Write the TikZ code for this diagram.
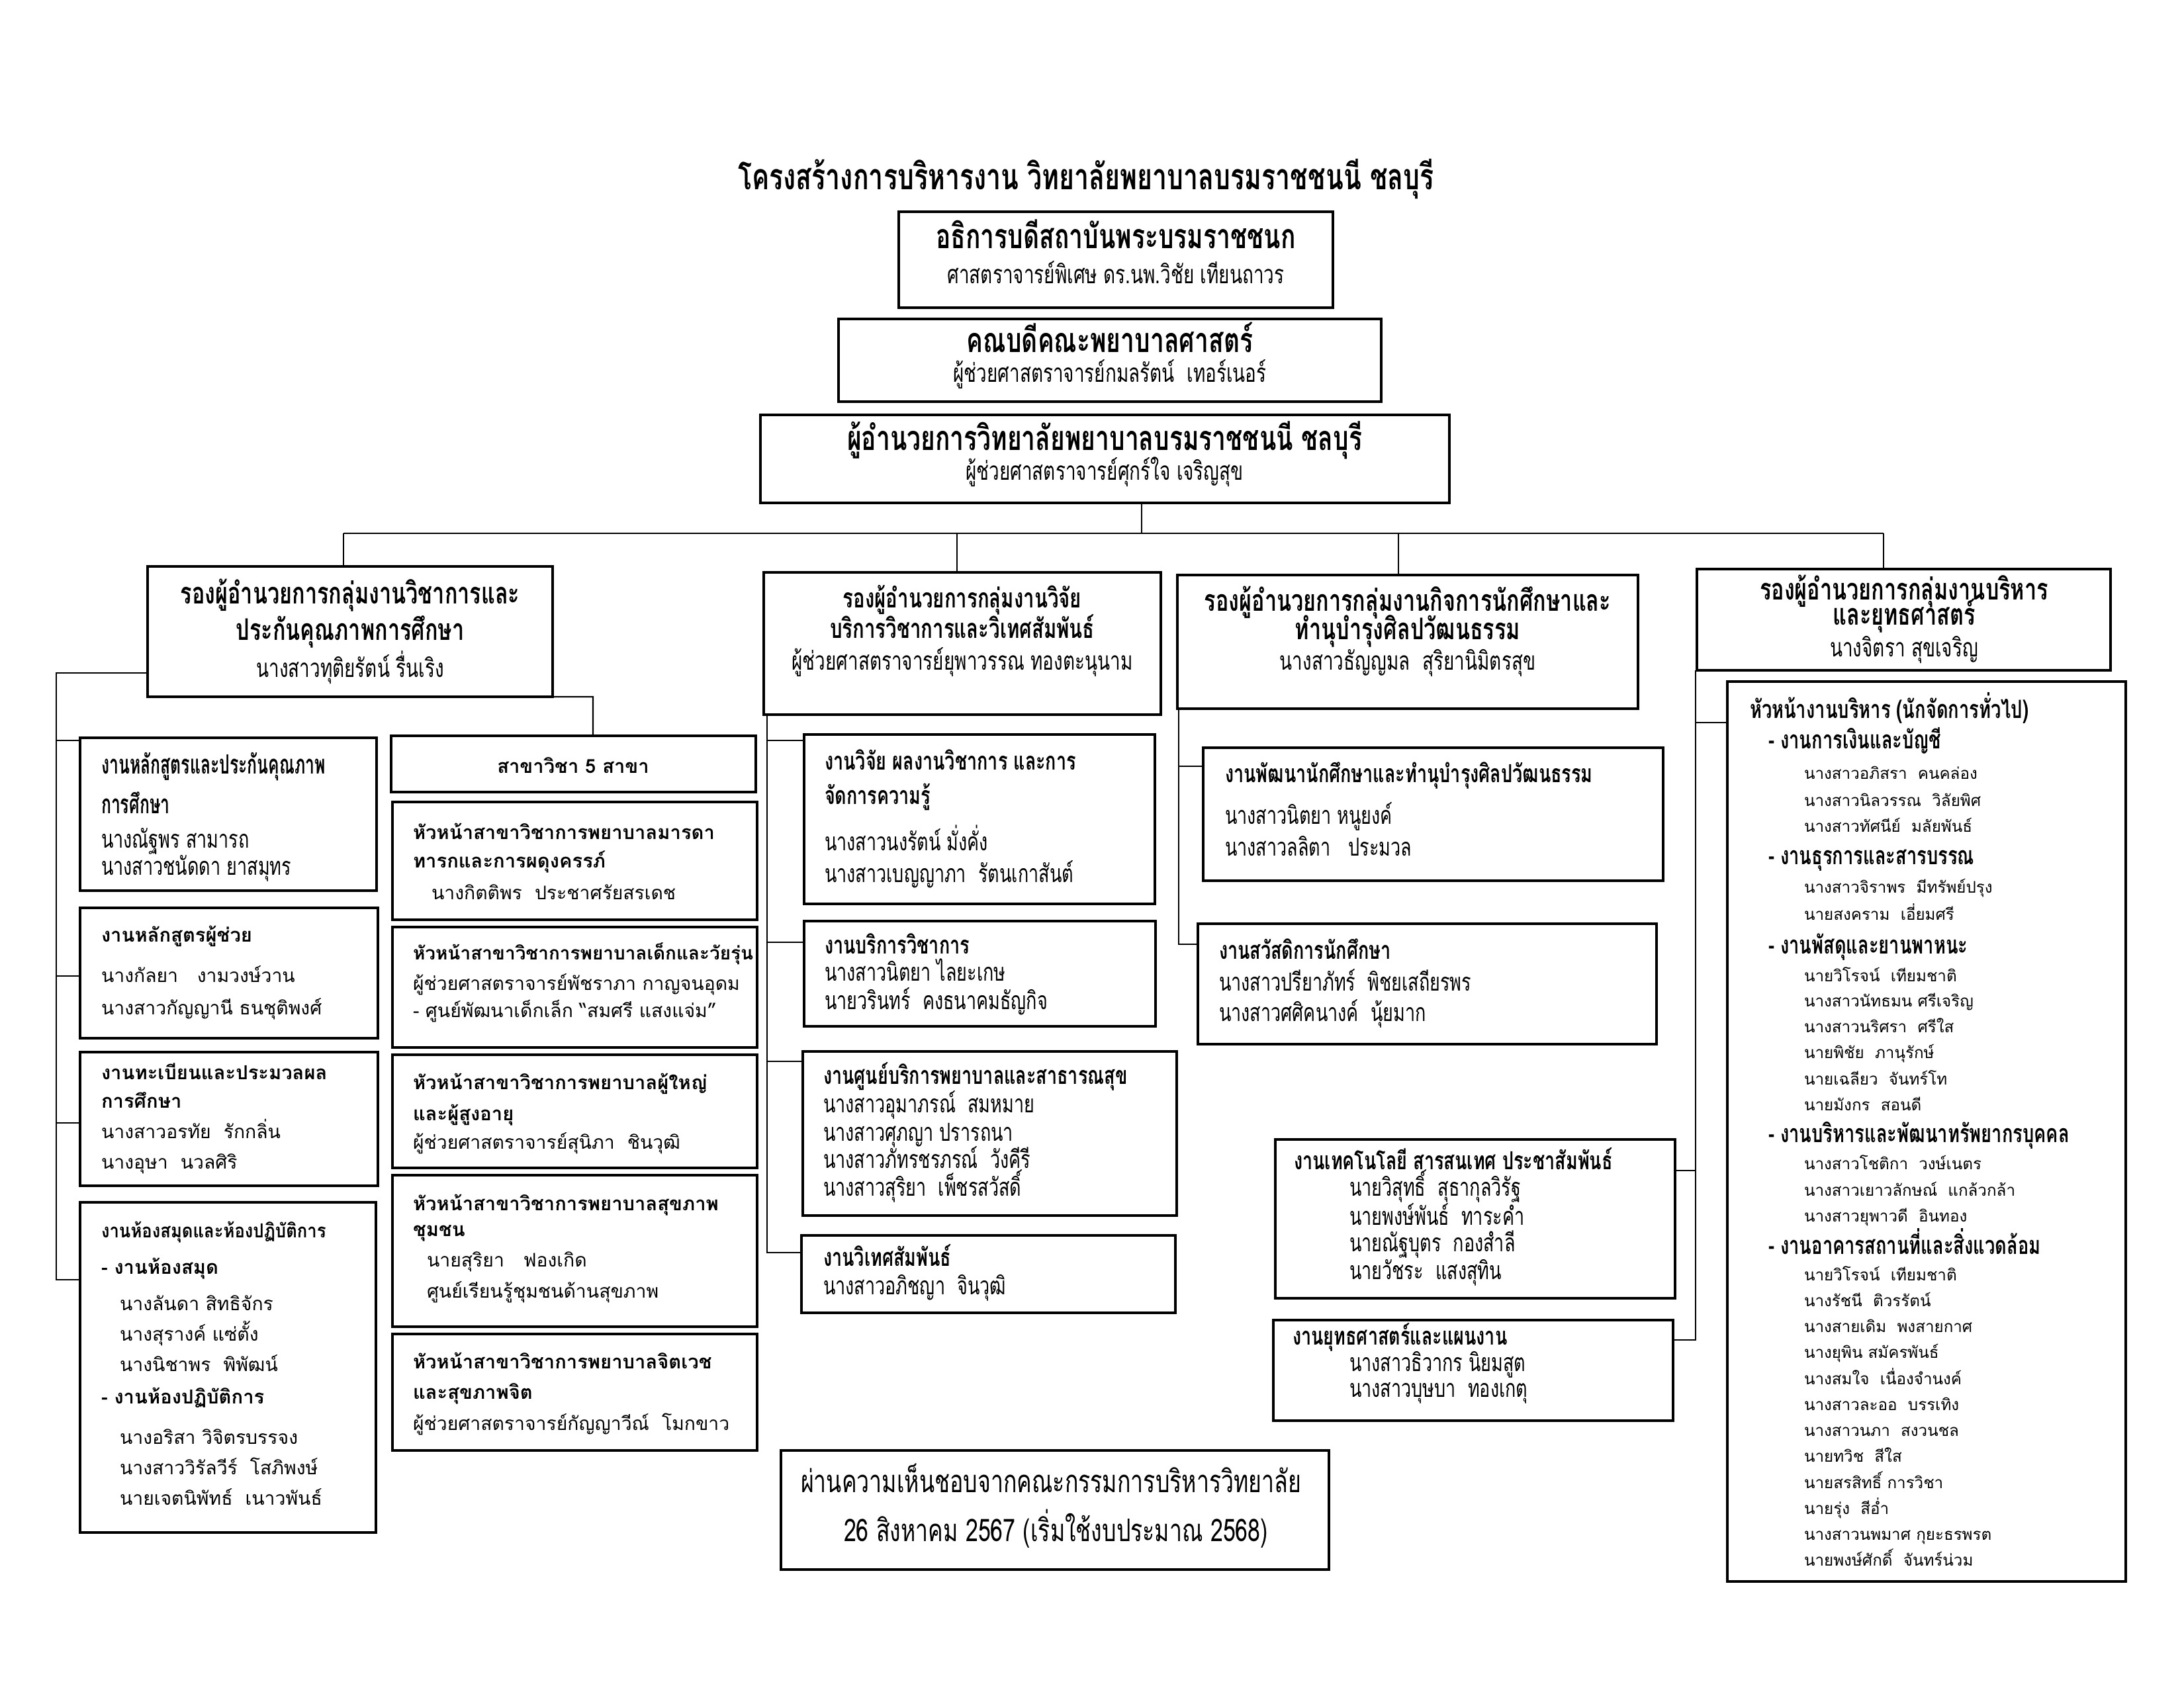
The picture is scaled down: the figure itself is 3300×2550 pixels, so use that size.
\documentclass[tikz,border=0pt]{standalone}
\usepackage{fontspec}
\newfontfamily\lp[Script=Thai]{Loma}
\newfontfamily\lpc[Script=Thai,FakeStretch=0.88]{Loma}
\newfontfamily\lc[Script=Thai,FakeStretch=0.72]{Loma}
\newfontfamily\lcc[Script=Thai,FakeStretch=0.62]{Loma}
\newcounter{tn}
\newcommand\tl[4]{\stepcounter{tn}\node[#1,anchor=base west] (t\arabic{tn}) at (#2,#3) {#4};}
\newcommand\tc[4]{\stepcounter{tn}\node[#1,anchor=base] (t\arabic{tn}) at (#2,#3) {#4};}
\newcommand\bx[5]{\node[bxs,anchor=north west,minimum width={(#4-#2)*0.24pt},minimum height={(#5-#3)*0.24pt}] (#1) at (#2,#3) {};}
\tikzset{
  bxs/.style={draw,line width=1.1pt,inner sep=0pt,outer sep=0pt},
  ln/.style={line width=0.5pt},
  tt/.style={inner sep=0pt,outer sep=0pt},
  ttl/.style={tt,font=\lc\bfseries\fontsize{13.1}{15}\selectfont},
  hA/.style={tt,font=\lc\bfseries\fontsize{12.4}{14}\selectfont},
  hAn/.style={tt,font=\lc\fontsize{9.3}{11}\selectfont},
  dep/.style={tt,font=\lc\bfseries\fontsize{10.8}{12}\selectfont},
  depb/.style={tt,font=\lc\bfseries\fontsize{9.8}{12}\selectfont},
  depn/.style={tt,font=\lc\fontsize{9.3}{11}\selectfont},
  sub/.style={tt,font=\lc\bfseries\fontsize{9}{11}\selectfont},
  subc/.style={tt,font=\lcc\bfseries\fontsize{9.6}{11}\selectfont},
  nm/.style={tt,font=\lc\fontsize{9}{11}\selectfont},
  lpb/.style={tt,font=\lp\bfseries\fontsize{7}{8}\selectfont},
  lpbs/.style={tt,font=\lp\bfseries\fontsize{6.7}{8}\selectfont},
  lpbc/.style={tt,font=\lpc\bfseries\fontsize{7}{8}\selectfont},
  lpn/.style={tt,font=\lp\fontsize{6.8}{8}\selectfont},
  hh/.style={tt,font=\lc\bfseries\fontsize{9.1}{10}\selectfont},
  hn/.style={tt,font=\lp\fontsize{5.8}{7}\selectfont},
  note/.style={tt,font=\lc\fontsize{11.3}{13}\selectfont}
}
\begin{document}
\begin{tikzpicture}[x=0.24pt,y=-0.24pt]
\useasboundingbox (0,0) rectangle (3300,2550);
% ---------- boxes ----------
\bx{A}{1358}{320}{2014}{465}
\bx{B}{1267}{482}{2087}{607}
\bx{C}{1149}{627}{2190}{760}
\bx{D1}{223}{856}{835}{1053}
\bx{D2}{1154}{865}{1754}{1080}
\bx{D3}{1779}{869}{2475}{1071}
\bx{D4}{2564}{860}{3189}{1013}
\bx{L1}{121}{1115}{569}{1346}
\bx{L2}{121}{1372}{571}{1569}
\bx{L3}{121}{1590}{571}{1792}
\bx{L4}{121}{1817}{568}{2316}
\bx{Sk}{591}{1112}{1142}{1197}
\bx{M1}{593}{1212}{1144}{1390}
\bx{M2}{593}{1401}{1144}{1583}
\bx{M3}{593}{1594}{1144}{1765}
\bx{M4}{593}{1776}{1144}{2005}
\bx{M5}{593}{2016}{1144}{2192}
\bx{R1}{1215}{1110}{1745}{1366}
\bx{R2}{1215}{1392}{1746}{1551}
\bx{R3}{1213}{1589}{1778}{1837}
\bx{R4}{1211}{1867}{1776}{1984}
\bx{S1}{1818}{1130}{2513}{1331}
\bx{S2}{1810}{1396}{2503}{1578}
\bx{T1}{1927}{1722}{2531}{1962}
\bx{T2}{1924}{1995}{2528}{2147}
\bx{H}{2610}{1030}{3212}{2390}
\bx{N}{1180}{2192}{2008}{2372}
% ---------- connectors ----------
\coordinate (j1) at (519,806);
\coordinate (j2) at (1446,806);
\coordinate (jc) at (1725,806);
\coordinate (j3) at (2113,806);
\coordinate (j4) at (2846,806);
\draw[ln] (j1) -- (j4);
\draw[ln] (jc |- C.south) -- (jc);
\draw[ln] (j1) -- (j1 |- D1.north);
\draw[ln] (j2) -- (j2 |- D2.north);
\draw[ln] (j3) -- (j3 |- D3.north);
\draw[ln] (j4) -- (j4 |- D4.north);
% left group
\coordinate (v1a) at (85,1017);
\coordinate (v1b) at (85,1934);
\draw[ln] (v1a -| D1.west) -- (v1a) -- (v1b) -- (v1b -| L4.west);
\coordinate (q1) at (85,1119);
\coordinate (q2) at (85,1475);
\coordinate (q3) at (85,1697);
\draw[ln] (q1) -- (q1 -| L1.west);
\draw[ln] (q2) -- (q2 -| L2.west);
\draw[ln] (q3) -- (q3 -| L3.west);
\coordinate (k1) at (896,1053);
\draw[ln] (D1.south east) -- (k1) -- (k1 |- Sk.north);
% research group
\coordinate (v2a) at (1159,1080);
\coordinate (v2b) at (1159,1893);
\draw[ln] (v2a) -- (v2b) -- (v2b -| R4.west);
\coordinate (r1) at (1159,1119);
\coordinate (r2) at (1159,1424);
\coordinate (r3) at (1159,1604);
\draw[ln] (r1) -- (r1 -| R1.west);
\draw[ln] (r2) -- (r2 -| R2.west);
\draw[ln] (r3) -- (r3 -| R3.west);
% student group
\coordinate (v3a) at (1781,1071);
\coordinate (v3b) at (1781,1427);
\draw[ln] (v3a) -- (v3b) -- (v3b -| S2.west);
\coordinate (s1) at (1781,1158);
\draw[ln] (s1) -- (s1 -| S1.west);
% admin group
\coordinate (v4a) at (2562,1013);
\coordinate (v4b) at (2562,2025);
\draw[ln] (v4a) -- (v4b) -- (v4b -| T2.east);
\coordinate (h1) at (2562,1092);
\coordinate (h2) at (2562,1769);
\draw[ln] (h1) -- (h1 -| H.west);
\draw[ln] (h2) -- (h2 -| T1.east);
% ---------- texts ----------
\tc{ttl}{1641}{286}{โครงสร้างการบริหารงาน วิทยาลัยพยาบาลบรมราชชนนี ชลบุรี}
\tc{hA}{1686}{375}{อธิการบดีสถาบันพระบรมราชชนก}
\tc{hAn}{1686}{428}{ศาสตราจารย์พิเศษ ดร.นพ.วิชัย เทียนถาวร}
\tc{hA}{1677}{532}{คณบดีคณะพยาบาลศาสตร์}
\tc{hAn}{1677}{577}{ผู้ช่วยศาสตราจารย์กมลรัตน์~ เทอร์เนอร์}
\tc{hA}{1669}{680}{ผู้อำนวยการวิทยาลัยพยาบาลบรมราชชนนี ชลบุรี}
\tc{hAn}{1669}{725}{ผู้ช่วยศาสตราจารย์ศุกร์ใจ เจริญสุข}
% deputies
\tc{dep}{529}{912}{รองผู้อำนวยการกลุ่มงานวิชาการและ}
\tc{dep}{529}{967}{ประกันคุณภาพการศึกษา}
\tc{depn}{529}{1023}{นางสาวทุติยรัตน์ รื่นเริง}
\tc{depb}{1454}{918}{รองผู้อำนวยการกลุ่มงานวิจัย}
\tc{depb}{1454}{964}{บริการวิชาการและวิเทศสัมพันธ์}
\tc{depn}{1454}{1012}{ผู้ช่วยศาสตราจารย์ยุพาวรรณ ทองตะนุนาม}
\tc{dep}{2127}{923}{รองผู้อำนวยการกลุ่มงานกิจการนักศึกษาและ}
\tc{dep}{2127}{966}{ทำนุบำรุงศิลปวัฒนธรรม}
\tc{depn}{2127}{1012}{นางสาวธัญญมล~ สุริยานิมิตรสุข}
\tc{dep}{2877}{906}{รองผู้อำนวยการกลุ่มงานบริหาร}
\tc{dep}{2877}{944}{และยุทธศาสตร์}
\tc{depn}{2877}{992}{นางจิตรา สุขเจริญ}
% left column
\tl{subc}{153}{1169}{งานหลักสูตรและประกันคุณภาพ}
\tl{subc}{153}{1229}{การศึกษา}
\tl{nm}{153}{1281}{นางณัฐพร สามารถ}
\tl{nm}{153}{1322}{นางสาวชนัดดา ยาสมุทร}
\tl{lpb}{153}{1423}{งานหลักสูตรผู้ช่วย}
\tl{lpn}{153}{1484}{นางกัลยา~~ งามวงษ์วาน}
\tl{lpn}{153}{1533}{นางสาวกัญญานี ธนชุติพงศ์}
\tl{lpb}{153}{1631}{งานทะเบียนและประมวลผล}
\tl{lpb}{153}{1674}{การศึกษา}
\tl{lpn}{153}{1720}{นางสาวอรทัย~ รักกลิ่น}
\tl{lpn}{153}{1766}{นางอุษา~ นวลศิริ}
\tl{lpbc}{153}{1870}{งานห้องสมุดและห้องปฏิบัติการ}
\tl{lpb}{153}{1925}{- งานห้องสมุด}
\tl{lpn}{181}{1980}{นางลันดา สิทธิจักร}
\tl{lpn}{181}{2026}{นางสุรางค์ แซ่ตั้ง}
\tl{lpn}{181}{2072}{นางนิชาพร~ พิพัฒน์}
\tl{lpb}{153}{2121}{- งานห้องปฏิบัติการ}
\tl{lpn}{181}{2182}{นางอริสา วิจิตรบรรจง}
\tl{lpn}{181}{2228}{นางสาววิรัลวีร์~ โสภิพงษ์}
\tl{lpn}{181}{2274}{นายเจตนิพัทธ์~ เนาวพันธ์}
% branches column
\tc{lpb}{866}{1168}{สาขาวิชา 5 สาขา}
\tl{lpb}{624}{1268}{หัวหน้าสาขาวิชาการพยาบาลมารดา}
\tl{lpb}{624}{1311}{ทารกและการผดุงครรภ์}
\tl{lpn}{652}{1359}{นางกิตติพร~ ประชาศรัยสรเดช}
\tl{lpbs}{624}{1450}{หัวหน้าสาขาวิชาการพยาบาลเด็กและวัยรุ่น}
\tl{lpn}{624}{1496}{ผู้ช่วยศาสตราจารย์พัชราภา กาญจนอุดม}
\tl{lpn}{624}{1537}{- ศูนย์พัฒนาเด็กเล็ก “สมศรี แสงแจ่ม”}
\tl{lpb}{624}{1646}{หัวหน้าสาขาวิชาการพยาบาลผู้ใหญ่}
\tl{lpb}{624}{1693}{และผู้สูงอายุ}
\tl{lpn}{624}{1736}{ผู้ช่วยศาสตราจารย์สุนิภา~ ชินวุฒิ}
\tl{lpb}{624}{1829}{หัวหน้าสาขาวิชาการพยาบาลสุขภาพ}
\tl{lpb}{624}{1868}{ชุมชน}
\tl{lpn}{645}{1914}{นายสุริยา~~ ฟองเกิด}
\tl{lpn}{645}{1961}{ศูนย์เรียนรู้ชุมชนด้านสุขภาพ}
\tl{lpb}{624}{2068}{หัวหน้าสาขาวิชาการพยาบาลจิตเวช}
\tl{lpb}{624}{2114}{และสุขภาพจิต}
\tl{lpn}{624}{2161}{ผู้ช่วยศาสตราจารย์กัญญาวีณ์~ โมกขาว}
% research column
\tl{sub}{1246}{1163}{งานวิจัย ผลงานวิชาการ และการ}
\tl{sub}{1246}{1215}{จัดการความรู้}
\tl{nm}{1246}{1285}{นางสาวนงรัตน์ มั่งคั่ง}
\tl{nm}{1246}{1333}{นางสาวเบญญาภา~ รัตนเกาสันต์}
\tl{sub}{1246}{1441}{งานบริการวิชาการ}
\tl{nm}{1246}{1482}{นางสาวนิตยา ไลยะเกษ}
\tl{nm}{1246}{1525}{นายวรินทร์~ คงธนาคมธัญกิจ}
\tl{sub}{1244}{1638}{งานศูนย์บริการพยาบาลและสาธารณสุข}
\tl{nm}{1244}{1681}{นางสาวอุมาภรณ์~ สมหมาย}
\tl{nm}{1244}{1724}{นางสาวศุภญา ปรารถนา}
\tl{nm}{1244}{1765}{นางสาวภัทรชรภรณ์~ วังคีรี}
\tl{nm}{1244}{1807}{นางสาวสุริยา~ เพ็ชรสวัสดิ์}
\tl{sub}{1244}{1913}{งานวิเทศสัมพันธ์}
\tl{nm}{1244}{1956}{นางสาวอภิชญา~ จินวุฒิ}
% student column
\tl{sub}{1851}{1182}{งานพัฒนานักศึกษาและทำนุบำรุงศิลปวัฒนธรรม}
\tl{nm}{1851}{1245}{นางสาวนิตยา หนูยงค์}
\tl{nm}{1851}{1293}{นางสาวลลิตา~~ ประมวล}
\tl{sub}{1842}{1449}{งานสวัสดิการนักศึกษา}
\tl{nm}{1842}{1497}{นางสาวปรียาภัทร์~ พิชยเสถียรพร}
\tl{nm}{1842}{1543}{นางสาวศศิคนางค์~ นุ้ยมาก}
\tl{sub}{1955}{1767}{งานเทคโนโลยี สารสนเทศ ประชาสัมพันธ์}
\tl{nm}{2039}{1807}{นายวิสุทธิ์~ สุธากุลวิรัฐ}
\tl{nm}{2039}{1851}{นายพงษ์พันธ์~ ทาระคำ}
\tl{nm}{2039}{1891}{นายณัฐบุตร~ กองสำลี}
\tl{nm}{2039}{1933}{นายวัชระ~ แสงสุทิน}
\tl{sub}{1953}{2032}{งานยุทธศาสตร์และแผนงาน}
\tl{nm}{2039}{2072}{นางสาวธิวากร นิยมสูต}
\tl{nm}{2039}{2111}{นางสาวบุษบา~ ทองเกตุ}
% admin head box
\tl{hh}{2644}{1085}{หัวหน้างานบริหาร (นักจัดการทั่วไป)}
\tl{hh}{2672}{1131}{- งานการเงินและบัญชี}
\tl{hn}{2726}{1177}{นางสาวอภิสรา~ คนคล่อง}
\tl{hn}{2726}{1218}{นางสาวนิลวรรณ~ วิลัยพิศ}
\tl{hn}{2726}{1257}{นางสาวทัศนีย์~ มลัยพันธ์}
\tl{hh}{2672}{1306}{- งานธุรการและสารบรรณ}
\tl{hn}{2726}{1349}{นางสาวจิราพร~ มีทรัพย์ปรุง}
\tl{hn}{2726}{1390}{นายสงคราม~ เอี่ยมศรี}
\tl{hh}{2672}{1441}{- งานพัสดุและยานพาหนะ}
\tl{hn}{2726}{1483}{นายวิโรจน์~ เทียมชาติ}
\tl{hn}{2726}{1521}{นางสาวนัทธมน ศรีเจริญ}
\tl{hn}{2726}{1560}{นางสาวนริศรา~ ศรีใส}
\tl{hn}{2726}{1599}{นายพิชัย~ ภานุรักษ์}
\tl{hn}{2726}{1639}{นายเฉลียว~ จันทร์โท}
\tl{hn}{2726}{1678}{นายมังกร~ สอนดี}
\tl{hh}{2672}{1726}{- งานบริหารและพัฒนาทรัพยากรบุคคล}
\tl{hn}{2726}{1767}{นางสาวโชติกา~ วงษ์เนตร}
\tl{hn}{2726}{1807}{นางสาวเยาวลักษณ์~ แกล้วกล้า}
\tl{hn}{2726}{1846}{นางสาวยุพาวดี~ อินทอง}
\tl{hh}{2672}{1895}{- งานอาคารสถานที่และสิ่งแวดล้อม}
\tl{hn}{2726}{1935}{นายวิโรจน์~ เทียมชาติ}
\tl{hn}{2726}{1974}{นางรัชนี~ ติวรรัตน์}
\tl{hn}{2726}{2013}{นางสายเดิม~ พงสายกาศ}
\tl{hn}{2726}{2052}{นางยุพิน สมัครพันธ์}
\tl{hn}{2726}{2092}{นางสมใจ~ เนื่องจำนงค์}
\tl{hn}{2726}{2131}{นางสาวละออ~ บรรเทิง}
\tl{hn}{2726}{2170}{นางสาวนภา~ สงวนชล}
\tl{hn}{2726}{2209}{นายทวิช~ สีใส}
\tl{hn}{2726}{2249}{นายสรสิทธิ์ การวิชา}
\tl{hn}{2726}{2288}{นายรุ่ง~ สีอ่ำ}
\tl{hn}{2726}{2327}{นางสาวนพมาศ กุยะธรพรต}
\tl{hn}{2726}{2366}{นายพงษ์ศักดิ์~ จันทร์น่วม}
% note
\tl{note}{1210}{2255}{ผ่านความเห็นชอบจากคณะกรรมการบริหารวิทยาลัย}
\tl{note}{1275}{2329}{26 สิงหาคม 2567 (เริ่มใช้งบประมาณ 2568)}
\end{tikzpicture}
\end{document}
